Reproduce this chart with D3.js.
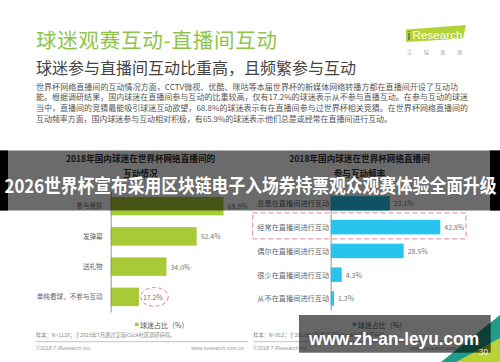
<!DOCTYPE html>
<html>
<head>
<meta charset="utf-8">
<script src="https://cdn.jsdelivr.net/npm/d3@7"></script>
<style>
  body { margin: 0; background: #fff; }
  svg { display: block; font-family: "Noto Sans CJK SC", "Noto Sans", sans-serif; }
</style>
</head>
<body>
<div id="chart"></div>
<script>
// page texts
var pageTitle = "球迷观赛互动-直播间互动";
var pageSubtitle = "球迷参与直播间互动比重高，且频繁参与互动";
var paragraph = [
  "世界杯网络直播间的互动情况方面，CCTV微视、优酷、咪咕等本届世界杯的新媒体网络转播方都在直播间开设了互动功",
  "能。根据调研结果，国内球迷在直播间参与互动的比重较高，仅有17.2%的球迷表示从不参与直播互动。在参与互动的球迷",
  "当中，直播间的竞猜最能吸引球迷互动欲望，68.8%的球迷表示有在直播间参与过世界杯相关竞猜。在世界杯网络直播间的",
  "互动频率方面，国内球迷参与互动相对积极，有65.9%的球迷表示他们总是或经常在直播间进行互动。"
];
var paragraphWidths = [422, 432, 432, 356];

// left chart
var leftTitle = ["2018年国内球迷在世界杯网络直播间的", "互动情况"];
var leftCats = ["参与竞猜", "发弹幕", "送礼物", "单纯看球，不参与互动"];
var leftVals = [68.8, 52.4, 34.0, 17.2];
var leftNote = "样本：N=1119；于2018年7月通过艾瑞iClick社区调研获得。";

// right chart
var rightTitle = ["2018年国内球迷在世界杯网络直播间", "参与互动频率"];
var rightCats = ["总是在直播间进行互动", "经常在直播间进行互动", "偶尔在直播间进行互动", "很少在直播间进行互动", "从不在直播间进行互动"];
var rightVals = [23.1, 42.8, 28.5, 4.3, 1.3];
var rightNote = "样本：N=912；于2018年7月通过艾瑞iClick社区调研获得。";

var legendLabel = "球迷占比（%）";
var bannerText = "2026世界杯宣布采用区块链电子入场券持票观众观赛体验全面升级";
var watermark = "www.zh-an-leyu.com";

var lime = "#a7ca36", cyan = "#27c4ef";

var svg = d3.select("#chart")
  .append("svg")
    .attr("width", 500)
    .attr("height", 362);

svg.append("rect").attr("width", 500).attr("height", 362).attr("fill", "#fff");

// header
svg.append("text")
  .attr("x", 36).attr("y", 38.7)
  .attr("dominant-baseline", "central")
  .attr("font-size", 20.5)
  .attr("textLength", 241)
  .attr("fill", "#8ec549")
  .text(pageTitle);

svg.append("text")
  .attr("x", 36).attr("y", 67)
  .attr("dominant-baseline", "central")
  .attr("font-size", 16)
  .attr("textLength", 320)
  .attr("fill", "#444")
  .text(pageSubtitle);

// iResearch logo
svg.append("polygon")
  .attr("points", "406,29.5 466,25 463,38.5 406,42")
  .attr("fill", "#b3d236");
svg.append("text")
  .attr("x", 407.5).attr("y", 39.5)
  .attr("font-family", "Liberation Sans, Arial, sans-serif")
  .attr("font-size", 12)
  .attr("fill", "#1d5e7a")
  .text("i");
svg.append("text")
  .attr("x", 412.5).attr("y", 38.5)
  .attr("font-family", "Liberation Sans, Arial, sans-serif")
  .attr("font-size", 11.5)
  .attr("textLength", 50)
  .attr("fill", "#fff")
  .text("Research");
svg.append("text")
  .attr("x", 407).attr("y", 51.5)
  .attr("dominant-baseline", "central")
  .attr("font-size", 5)
  .attr("textLength", 55)
  .attr("fill", "#999")
  .text("艾瑞咨询");

// paragraph
svg.selectAll(".para")
  .data(paragraph)
  .enter().append("text")
    .attr("class", "para")
    .attr("x", 36)
    .attr("y", function(d, i) { return 86.3 + i * 10.6; })
    .attr("dominant-baseline", "central")
    .attr("font-size", 8)
    .attr("textLength", function(d, i) { return paragraphWidths[i]; })
    .attr("fill", "#555")
    .text(function(d) { return d; });

// chart titles
function chartTitle(lines, cx) {
  svg.selectAll(null)
    .data(lines)
    .enter().append("text")
      .attr("x", cx)
      .attr("y", function(d, i) { return 158.3 + i * 14.7; })
      .attr("text-anchor", "middle")
      .attr("dominant-baseline", "central")
      .attr("font-size", 8.6)
      .attr("font-weight", "bold")
      .attr("fill", "#333")
      .text(function(d) { return d; });
}
chartTitle(leftTitle, 140.5);
chartTitle(rightTitle, 359.5);

// ---- left chart
var xL = d3.scaleLinear().domain([0, 100]).range([110.7, 274.7]);
var yL = d3.scaleBand().domain(leftCats).range([191, 312])
  .paddingInner(0.39).paddingOuter(0.195);

svg.selectAll(".barL")
  .data(leftVals)
  .enter().append("rect")
    .attr("x", xL(0))
    .attr("y", function(d, i) { return yL(leftCats[i]); })
    .attr("width", function(d) { return xL(d) - xL(0); })
    .attr("height", yL.bandwidth())
    .attr("fill", lime);

var axL = svg.append("g")
  .attr("transform", "translate(" + xL(0) + ",0)")
  .call(d3.axisLeft(yL).tickSize(0).tickPadding(8));
axL.select(".domain").attr("stroke", "#999");
axL.selectAll("text")
  .attr("font-family", "Noto Sans CJK SC, sans-serif")
  .attr("font-size", 6.6)
  .attr("fill", "#666");

svg.selectAll(".valL")
  .data(leftVals)
  .enter().append("text")
    .attr("x", function(d) { return xL(d) + 4; })
    .attr("y", function(d, i) { return yL(leftCats[i]) + yL.bandwidth() / 2; })
    .attr("dominant-baseline", "central")
    .attr("font-size", 7)
    .attr("fill", "#777")
    .text(function(d) { return d.toFixed(1) + "%"; });

// dashed circle around the last value
svg.append("ellipse")
  .attr("cx", xL(leftVals[3]) + 15.5)
  .attr("cy", yL(leftCats[3]) + yL.bandwidth() / 2)
  .attr("rx", 13.8).attr("ry", 9.3)
  .attr("fill", "none")
  .attr("stroke", "#e3848f")
  .attr("stroke-width", 1)
  .attr("stroke-dasharray", "4,2.5");

// ---- right chart
var xR = d3.scaleLinear().domain([0, 100]).range([330.7, 586.7]);
var yR = d3.scaleBand().domain(rightCats).range([191.5, 310.3])
  .paddingInner(0.39).paddingOuter(0.195);

svg.selectAll(".barR")
  .data(rightVals)
  .enter().append("rect")
    .attr("x", xR(0))
    .attr("y", function(d, i) { return yR(rightCats[i]); })
    .attr("width", function(d) { return xR(d) - xR(0); })
    .attr("height", yR.bandwidth())
    .attr("fill", cyan);

var axR = svg.append("g")
  .attr("transform", "translate(" + xR(0) + ",0)")
  .call(d3.axisLeft(yR).tickSize(0).tickFormat(""));
axR.select(".domain").attr("stroke", "#999");

svg.selectAll(".catR")
  .data(rightCats)
  .enter().append("text")
    .attr("x", 257.3)
    .attr("y", function(d) { return yR(d) + yR.bandwidth() / 2; })
    .attr("dominant-baseline", "central")
    .attr("font-size", 7.2)
    .attr("fill", "#666")
    .text(function(d) { return d; });

svg.selectAll(".valR")
  .data(rightVals)
  .enter().append("text")
    .attr("x", function(d) { return xR(d) + 4; })
    .attr("y", function(d, i) { return yR(rightCats[i]) + yR.bandwidth() / 2; })
    .attr("dominant-baseline", "central")
    .attr("font-size", 7)
    .attr("fill", "#777")
    .text(function(d) { return d.toFixed(1) + "%"; });

// dashed box around the "经常" row
var hl = rightCats[1];
svg.append("rect")
  .attr("x", 252.7)
  .attr("y", yR(hl) - 7)
  .attr("width", 466 - 252.7)
  .attr("height", yR.bandwidth() + 11.5)
  .attr("fill", "none")
  .attr("stroke", "#e3848f")
  .attr("stroke-width", 1)
  .attr("stroke-dasharray", "5,3");

// legends
function legend(cx, color) {
  svg.append("rect")
    .attr("x", cx).attr("y", 322.7)
    .attr("width", 3.5).attr("height", 3.5)
    .attr("fill", color);
  svg.append("text")
    .attr("x", cx + 5).attr("y", 324.5)
    .attr("dominant-baseline", "central")
    .attr("font-size", 7)
    .attr("fill", "#555")
    .text(legendLabel);
}
legend(135, lime);
legend(352.7, cyan);

// footers
function footer(x0, x1, note) {
  svg.append("text")
    .attr("x", x0).attr("y", 334.3)
    .attr("dominant-baseline", "central")
    .attr("font-size", 5.2)
    .attr("fill", "#888")
    .text(note);
  svg.append("line")
    .attr("x1", x0).attr("x2", x1)
    .attr("y1", 341.7).attr("y2", 341.7)
    .attr("stroke", "#aaa").attr("stroke-width", 0.7);
  svg.append("text")
    .attr("x", x0).attr("y", 348.3)
    .attr("dominant-baseline", "central")
    .attr("font-family", "Liberation Sans, Arial, sans-serif")
    .attr("font-size", 5.3)
    .attr("fill", "#999")
    .text("©2018.7 iResearch Inc.");
  svg.append("text")
    .attr("x", x1 - 4).attr("y", 348.3)
    .attr("text-anchor", "end")
    .attr("dominant-baseline", "central")
    .attr("font-family", "Liberation Sans, Arial, sans-serif")
    .attr("font-size", 5.3)
    .attr("fill", "#999")
    .text("www.iresearch.com.cn");
}
footer(36, 248, leftNote);
footer(253.3, 467, rightNote);

// corner decoration
svg.append("polygon").attr("points", "500,315 500,362 441,362").attr("fill", "#1f9d8a");
svg.append("polygon").attr("points", "500,338 500,362 456,362").attr("fill", "#b7d334");

// overlay banner
svg.append("rect")
  .attr("x", 0).attr("y", 150.5)
  .attr("width", 500).attr("height", 60)
  .attr("fill", "rgba(0,0,0,0.58)");
svg.append("rect").attr("x", 0).attr("y", 150.5).attr("width", 8).attr("height", 60).attr("fill", "#000");
svg.append("rect").attr("x", 490).attr("y", 150.5).attr("width", 10).attr("height", 60).attr("fill", "#000");
svg.append("text")
  .attr("x", 250.5).attr("y", 184)
  .attr("text-anchor", "middle")
  .attr("dominant-baseline", "central")
  .attr("font-size", 19)
  .attr("font-weight", "bold")
  .attr("textLength", 492)
  .attr("lengthAdjust", "spacingAndGlyphs")
  .attr("fill", "#fff")
  .text(bannerText);

// watermark box
svg.append("rect")
  .attr("x", 299).attr("y", 315)
  .attr("width", 191.7).attr("height", 37.7)
  .attr("fill", "rgba(0,0,0,0.6)");
svg.append("text")
  .attr("x", 394).attr("y", 345)
  .attr("text-anchor", "middle")
  .attr("font-family", "Liberation Sans, Arial, sans-serif")
  .attr("font-size", 17.5)
  .attr("font-weight", "bold")
  .attr("textLength", 170)
  .attr("lengthAdjust", "spacingAndGlyphs")
  .attr("fill", "#fff")
  .text(watermark);
svg.append("text")
  .attr("x", 483.5).attr("y", 352)
  .attr("text-anchor", "middle")
  .attr("dominant-baseline", "central")
  .attr("font-family", "Liberation Sans, Arial, sans-serif")
  .attr("font-size", 8.5)
  .attr("fill", "rgba(255,255,255,0.85)")
  .text("30");
</script>
</body>
</html>
